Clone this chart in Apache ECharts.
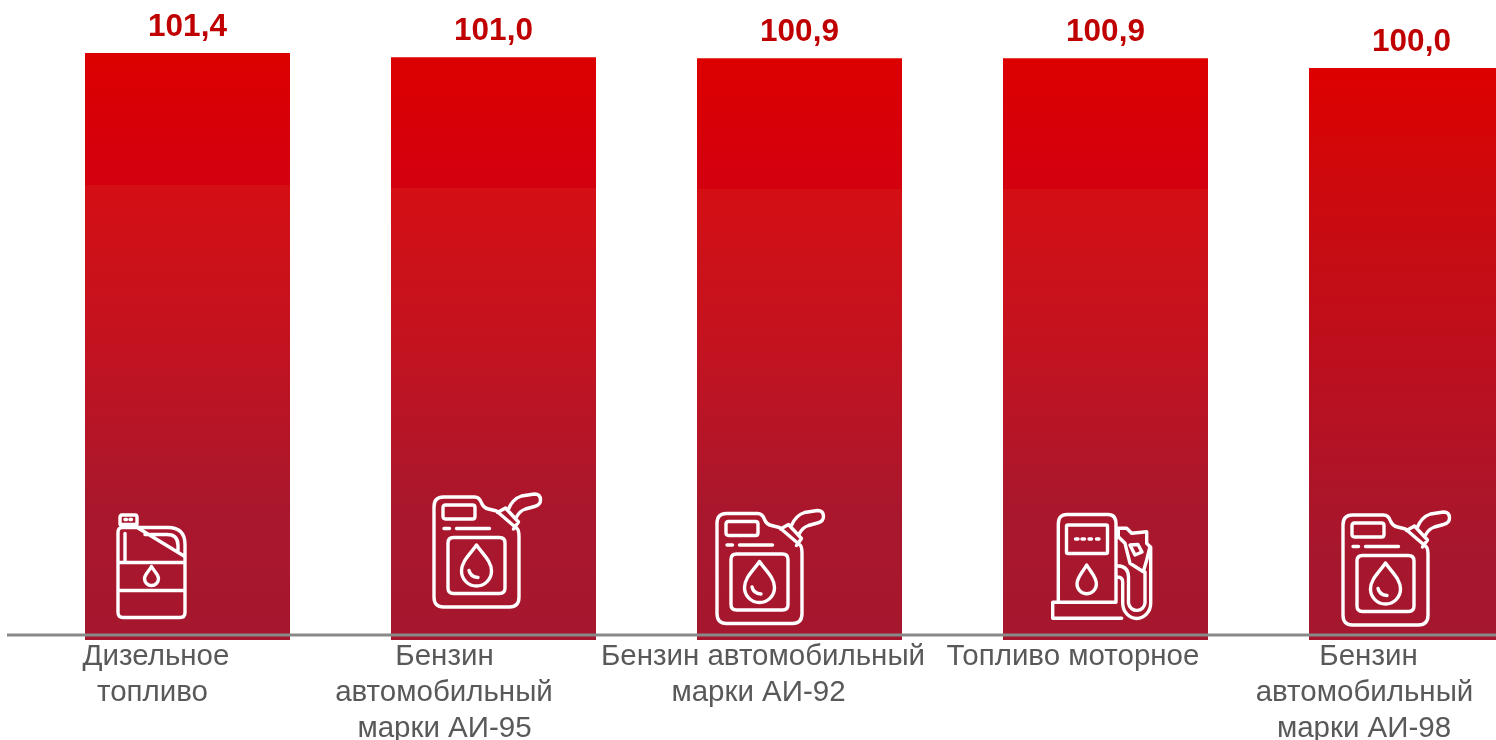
<!DOCTYPE html>
<html>
<head>
<meta charset="utf-8">
<style>html,body{margin:0;padding:0;background:#fff}#c{width:1496px;height:740px}</style>
<script src="https://cdn.jsdelivr.net/npm/echarts@6/dist/echarts.min.js"></script>
</head>
<body>
<div id="c"></div>
<script>
const categories = ['Дизельное\nтопливо','Бензин\nавтомобильный\nмарки АИ-95','Бензин автомобильный\nмарки АИ-92','Топливо моторное','Бензин\nавтомобильный\nмарки АИ-98'];
const values = [101.4,101.0,100.9,100.9,100.0];
const axisMin = 46.6;

// Presentation only
const lineShift = [[31.5,35],[49,49.5,49],[36.5,41],[32.5],[43,47,47.5]];
const stepAt = [0.225,0.224,0.224,0.224,null];

const canIcon = 'M0.5 100V10Q0.5 0 10 0H41Q46 0 48 6Q50 11 55 12L63 14L84 32Q85.5 34 85.5 40V100Q85.5 110 76 110H10Q0.5 110 0.5 100Z'
 + 'M64 15.5L72 11L85 25L80 32M75 12Q79 2 88 -1L101 -3Q107 -3 107 3Q107 8 101 9.5L92 12Q86 14 83 20'
 + 'M12 8H39Q41.5 8 41.5 10.5V19.5Q41.5 22 39 22H12Q9.5 22 9.5 19.5V10.5Q9.5 8 12 8Z'
 + 'M10.5 31.5H16M23 31.5H56'
 + 'M20 40.5H66Q71.5 40.5 71.5 46V91Q71.5 96.5 66 96.5H20Q14.5 96.5 14.5 91V46Q14.5 40.5 20 40.5Z'
 + 'M43 48C37 57 28 64 28 74A15 15 0 0 0 58 74C58 64 49 57 43 48Z'
 + 'M35.5 73.5Q37 80 44.5 80.5';
const jugIcon = 'M0 5Q0 0 4 0H50Q67 0 67 17V85Q67 90 62 90H5Q0 90 0 85Z'
 + 'M2 -3V-10Q2 -12.5 4 -12.5H17Q19 -12.5 19 -10V-3H2Z'
 + 'M7 -8H8.5M12 -8H13.5'
 + 'M20 0.5L66 28.5M27 7H49Q60 7 60 18V23M7 6V33M0 35H67M0 63H67'
 + 'M33.5 39C30 45 26.5 47 26.5 51A7 7 0 0 0 40.5 51C40.5 47 37 45 33.5 39Z';
const pumpIcon = 'M0.7 88.3H64M69.7 104.3H0.7V88.3'
 + 'M6.3 88V10Q6.3 0.5 15 0.5H56Q64 0.5 64 10V88'
 + 'M16 11H54Q55.5 11 55.5 12.5V38Q55.5 39.5 54 39.5H16Q14.5 39.5 14.5 38V12.5Q14.5 11 16 11Z'
 + 'M23.5 25H26M30 25H32.5M37 25H39.5M44.5 25H47'
 + 'M34.7 51C30 59 25 63 25 70A9.7 9.7 0 0 0 44.4 70C44.4 63 39.5 59 34.7 51Z'
 + 'M65.3 51.7Q76.5 52 76.5 63V89A8.3 8.3 0 0 0 93 89V58'
 + 'M65.3 63Q70.7 63 70.7 68V89A14 15.5 0 0 0 98.7 89V33'
 + 'M66.3 14.3H74.7L79.7 19.3L94.7 17.7V29.3L98 32.7L94.7 46L91.3 57.7L78 49.3L73 29.3L66.3 22.7Z'
 + 'M78 31L86 30.5L90 38L83 41Z';

// icon path, offset from bar centre, offset up from bar foot
const iconPlacement = [
  [jugIcon,-69.5,112.5],
  [canIcon,-60,143],
  [canIcon,-83,126.5],
  [pumpIcon,-53.5,126],
  [canIcon,-69,125]
];

function barFill(step){
  const stops = step === null
    ? [[0,'#DE0000'],[0.22,'#CC0A0E'],[0.55,'#BA1020'],[0.85,'#A6172E'],[1,'#A5172E']]
    : [[0,'#DC0000'],[step,'#D3000F'],[step,'#D40F14'],[0.5,'#C31320'],[0.78,'#A9172D'],[1,'#A5172E']];
  return {type:'linear',x:0,y:0,x2:0,y2:1,colorStops:stops.map(s=>({offset:s[0],color:s[1]}))};
}

const rich = {};
lineShift.forEach((lines,i)=>lines.forEach((s,j)=>{
  rich['l'+i+'_'+j] = {fontFamily:'Liberation Sans',fontSize:29.5,lineHeight:36,color:'#595959',padding:[0,s*2,0,0],align:'center'};
}));

const chart = echarts.init(document.getElementById('c'),null,{renderer:'canvas',width:1496,height:740});
chart.setOption({
  animation:false,
  backgroundColor:'#fff',
  grid:{left:34.5,width:1530,top:53,height:587,outerBoundsMode:'none'},
  xAxis:{
    type:'category',data:categories,
    axisLine:{show:false},axisTick:{show:false},
    axisLabel:{interval:0,margin:-1,hideOverlap:false,verticalAlign:'top',
      formatter:(v,i)=>v.split('\n').map((t,j)=>'{l'+i+'_'+j+'|'+t+'}').join('\n'),rich:rich}
  },
  yAxis:{type:'value',min:axisMin,max:101.4,show:false},
  series:[{
    type:'bar',barWidth:205,
    data:values.map((v,i)=>({value:v,itemStyle:{color:barFill(stepAt[i])}})),
    label:{show:true,position:'top',distance:10,
      fontFamily:'Liberation Sans',fontSize:31.5,fontWeight:'bold',color:'#C00000',
      formatter:p=>p.value.toFixed(1).replace('.',',')}
  },{
    type:'custom',silent:true,clip:false,z:5,
    data:categories.map((c,i)=>[i,axisMin]),
    encode:{x:0,y:1},
    renderItem:(params,api)=>{
      const p = api.coord([api.value(0),api.value(1)]);
      const ic = iconPlacement[params.dataIndex];
      return {type:'path',x:p[0]+ic[1],y:p[1]-ic[2],
        shape:{pathData:ic[0]},
        style:{fill:'none',stroke:'#fff',lineWidth:3.4,lineCap:'round',lineJoin:'round'}};
    }
  }],
  graphic:[
    {type:'line',z:50,shape:{x1:7,y1:635,x2:1496,y2:635},style:{stroke:'#898989',lineWidth:3}}
  ]
});
</script>
</body>
</html>
